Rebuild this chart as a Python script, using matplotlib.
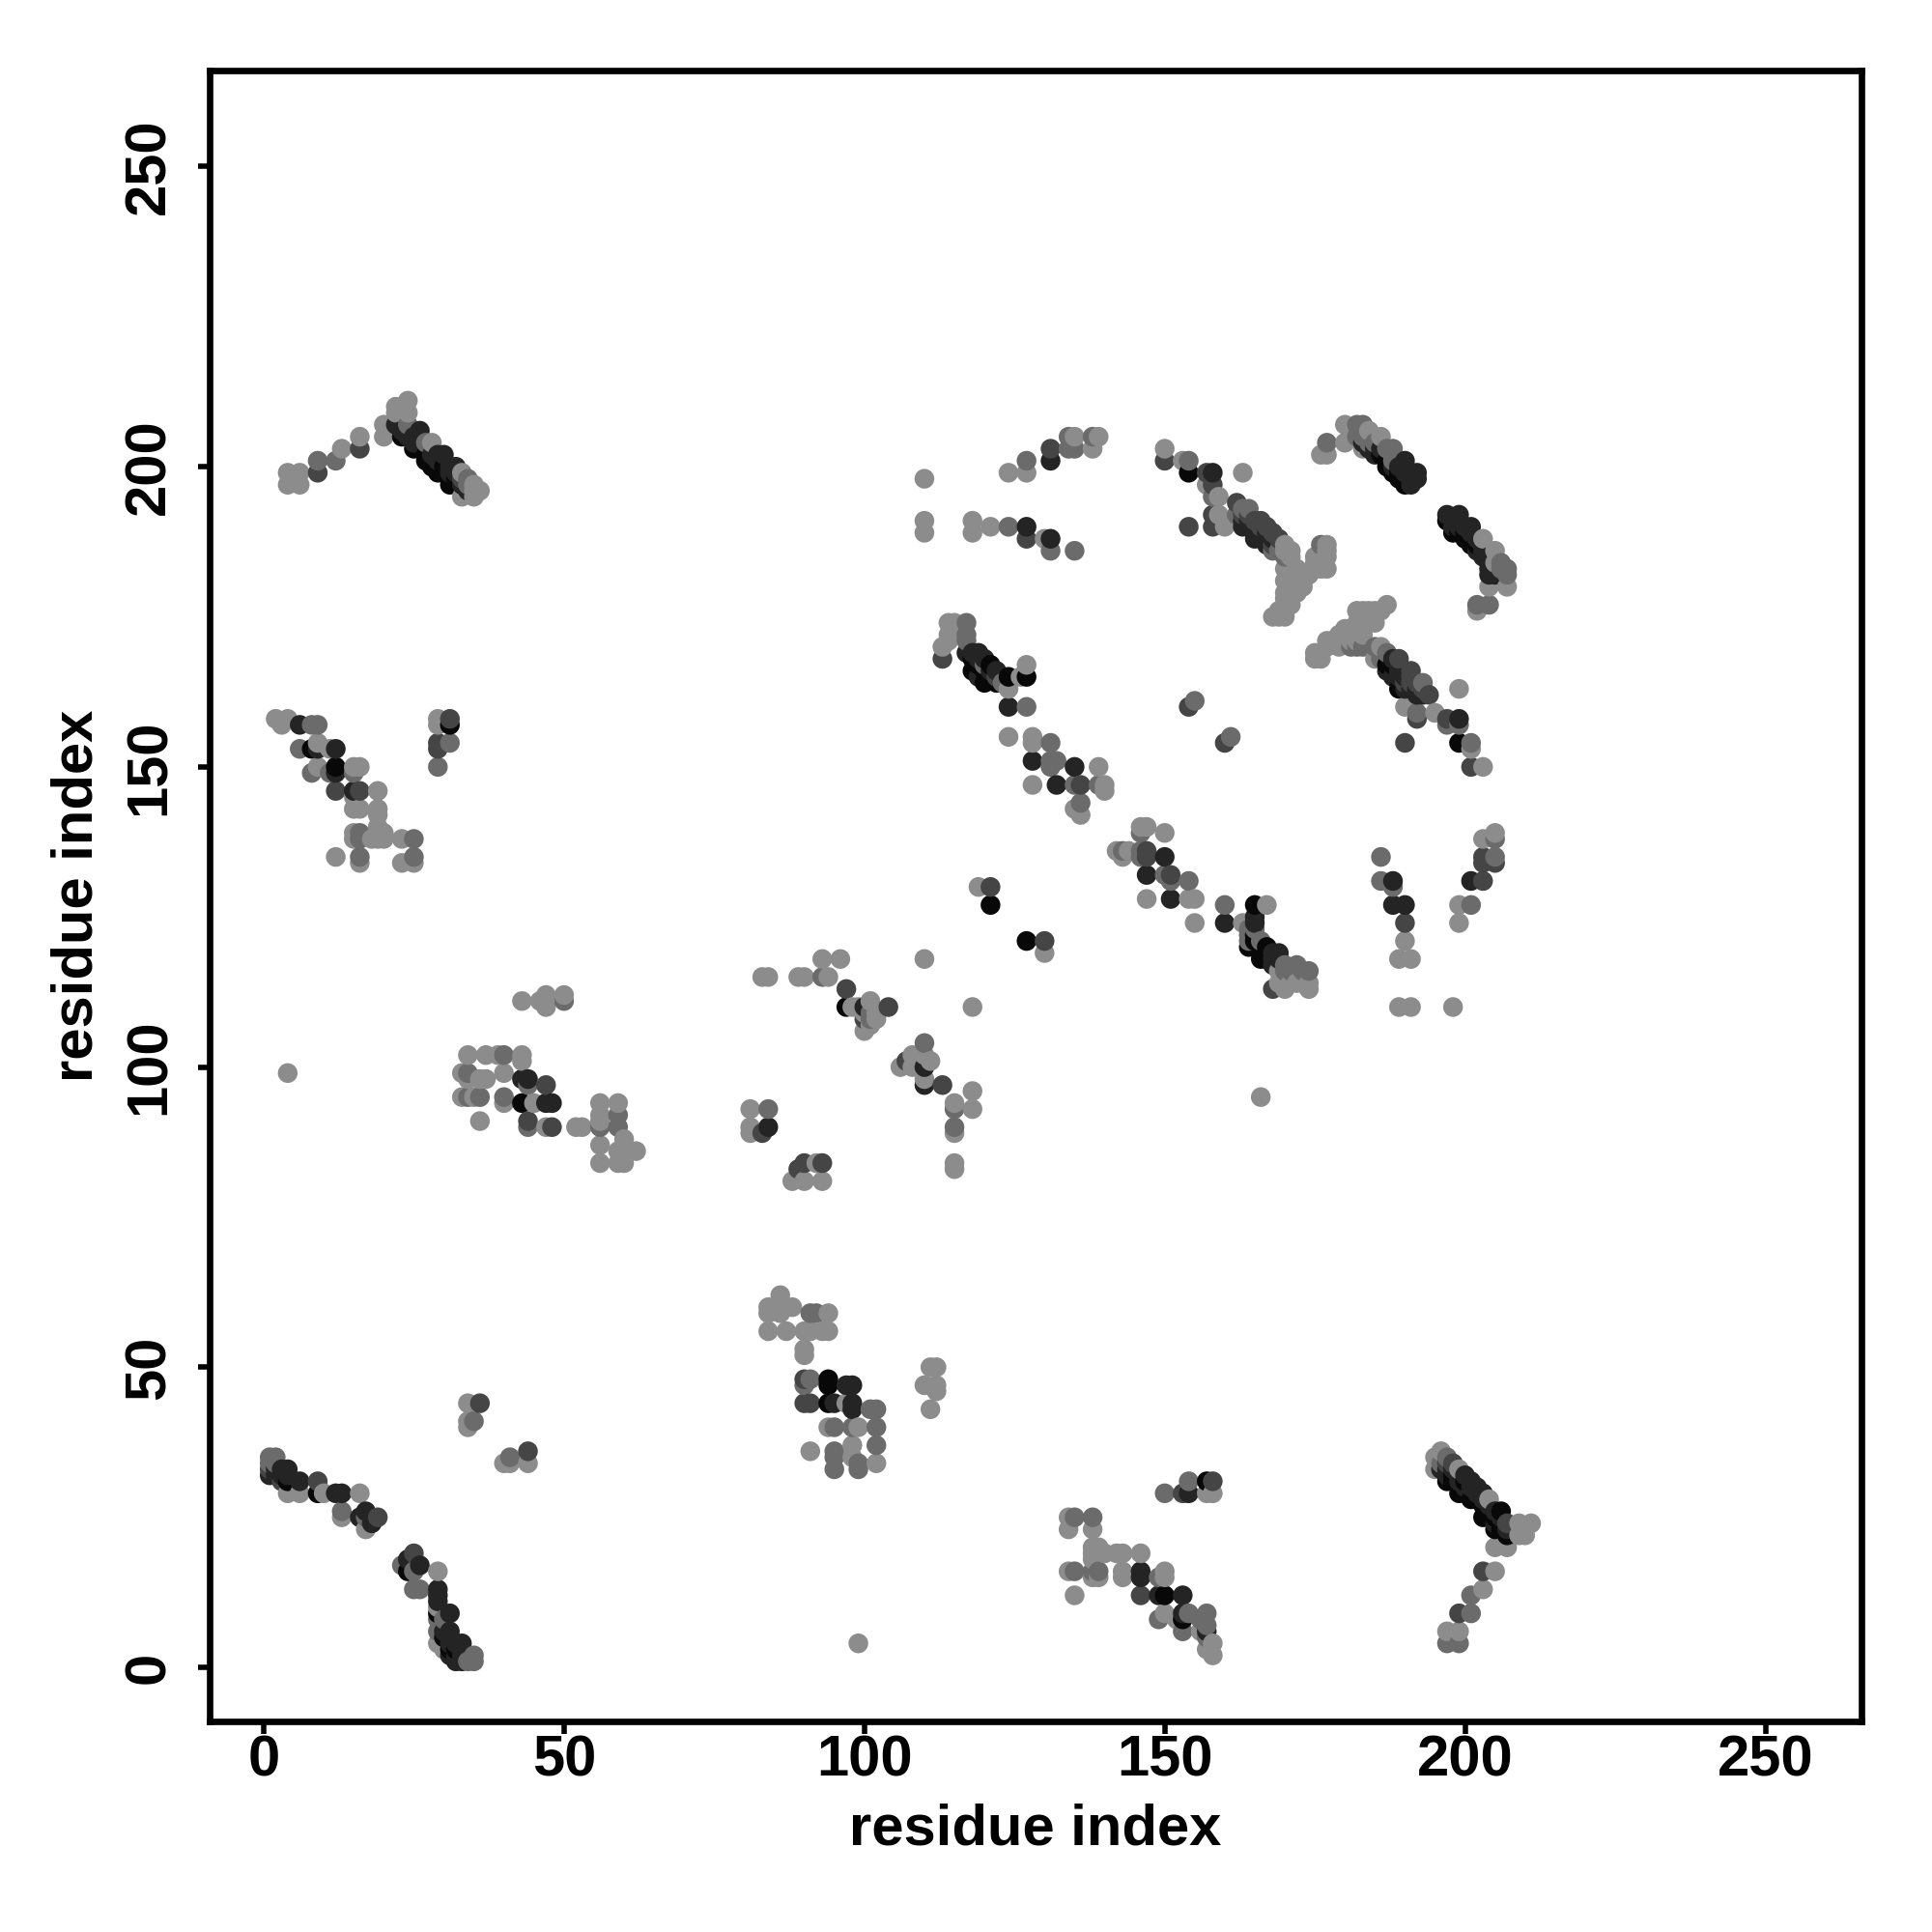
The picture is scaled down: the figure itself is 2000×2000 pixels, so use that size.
import matplotlib
matplotlib.use("Agg")
import matplotlib.pyplot as plt
import numpy as np

plt.rcParams["font.family"] = ["Liberation Sans", "DejaVu Sans"]

# contacts, (residue, residue), one list per grey level
black_pts = [
    (23, 205), (25, 203), (28, 201), (29, 199), (31, 197), (30, 199), (32, 198),
    (27, 202), (27, 201), (28, 200), (30, 200), (31, 198),
    (8, 153), (12, 150), (31, 157),
    (154, 199), (187, 201), (189, 199), (190, 197), (197, 191), (200, 189), (201, 187),
    (186, 202), (187, 200), (188, 199), (189, 198), (190, 198), (198, 189), (199, 189),
    (200, 188), (201, 188), (202, 187),
    (118, 166), (121, 167), (120, 164), (124, 165), (127, 165), (187, 167),
    (118, 168), (119, 167), (120, 166), (121, 165), (122, 164), (189, 163), (188, 167),
    (199, 154), (165, 127), (164, 120), (165, 122), (167, 120), (166, 118),
    (165, 121), (166, 119), (167, 119), (167, 118),
    (121, 127), (127, 121),
    (97, 110), (94, 48), (94, 47), (94, 44), (43, 94), (4, 31), (9, 29), (24, 16), (29, 9),
    (30, 5), (32, 3), (31, 3),
    (157, 31), (150, 12), (153, 8), (197, 31), (199, 29), (201, 28), (203, 25),
    (206, 26), (205, 23), (207, 22), (198, 31), (198, 32), (199, 30), (200, 31), (202, 28),
    (203, 27), (204, 26), (205, 25), (206, 24), (206, 23),
]
dark_pts = [
    (22, 207), (26, 206), (30, 202), (32, 200), (33, 197), (25, 205), (26, 204),
    (29, 202), (31, 200), (12, 153), (9, 153), (12, 149), (15, 146), (6, 157),
    (23, 206), (24, 205), (25, 204), (28, 202), (29, 201), (31, 199), (32, 199), (34, 196),
    (127, 190), (131, 188), (131, 201), (158, 199), (165, 188), (163, 190), (166, 189),
    (164, 191), (165, 190), (165, 189), (167, 188), (163, 191), (168, 188), (167, 189),
    (167, 187), (183, 204), (185, 203), (190, 201), (192, 199), (191, 197), (188, 200),
    (184, 203), (185, 202), (186, 203), (189, 200), (190, 199), (191, 199), (191, 198),
    (192, 198), (198, 190), (198, 191), (199, 190), (200, 190), (201, 189), (202, 188),
    (203, 187), (203, 186), (204, 185), (204, 184), (205, 183), (205, 182),
    (199, 192), (197, 192), (201, 190), (202, 186), (203, 185), (204, 183), (204, 182),
    (118, 169), (119, 169), (117, 169), (124, 160), (128, 151), (132, 147), (135, 150),
    (119, 168), (120, 168), (121, 166), (122, 166), (119, 165),
    (188, 165), (190, 163), (192, 162), (199, 158), (147, 132), (150, 135), (151, 128),
    (188, 168), (187, 166), (189, 166), (189, 165), (190, 165), (191, 163), (192, 163),
    (193, 162),
    (160, 124), (165, 124), (169, 119), (168, 117), (188, 131), (188, 127), (190, 127),
    (165, 125), (168, 118), (168, 119), (169, 118),
    (201, 131), (44, 98), (43, 98), (47, 94), (48, 94), (84, 90), (100, 110), (110, 100),
    (110, 97), (97, 47), (98, 47), (95, 44), (98, 44), (98, 43), (1, 32), (4, 33), (6, 31),
    (2, 33), (2, 32), (3, 33), (3, 32), (4, 32),
    (12, 29), (13, 29), (16, 25), (17, 26), (18, 24), (24, 18), (26, 17), (29, 13),
    (29, 12), (31, 9), (31, 6), (31, 4), (33, 4), (32, 1), (33, 1),
    (29, 11), (30, 6), (31, 5), (32, 4), (33, 3), (32, 2), (33, 2), (31, 2),
    (154, 29), (149, 12), (153, 12), (153, 9), (146, 16), (146, 15), (157, 6),
    (196, 33), (200, 32), (200, 30), (202, 30), (197, 33), (197, 32), (198, 33), (199, 32),
    (199, 31), (201, 30), (201, 31), (202, 29), (203, 29), (203, 28), (204, 27), (205, 26),
    (205, 24), (206, 25), (207, 23),
]
dkmid_pts = [
    (9, 199), (16, 203), (29, 154), (29, 153), (31, 158), (12, 146), (16, 146),
    (150, 201), (127, 188), (131, 203), (157, 199), (158, 197), (154, 190), (158, 192),
    (158, 190), (162, 194), (166, 191), (168, 189), (113, 168), (122, 165),
    (163, 192), (164, 192), (165, 191), (166, 190), (167, 190), (169, 188), (168, 187),
    (154, 160), (160, 154), (147, 136), (147, 135), (151, 132), (121, 130), (130, 121),
    (168, 113), (203, 131), (203, 135), (203, 134), (205, 134), (190, 124), (189, 168),
    (191, 166), (194, 162), (197, 158), (192, 158), (190, 154), (201, 150), (136, 147),
    (190, 164), (191, 165), (191, 164), (192, 164), (193, 163),
    (47, 97), (44, 91), (48, 90), (83, 89), (90, 84), (89, 83), (93, 84), (97, 113),
    (107, 101), (113, 97), (100, 108), (90, 48), (90, 44), (91, 44), (1, 33), (3, 31),
    (9, 31), (19, 25), (25, 19), (36, 44), (44, 36), (153, 29), (146, 12),
    (198, 34), (203, 16), (199, 9), (207, 24), (158, 31), (104, 110), (197, 34), (33, 198),
]
mid_pts = [
    (9, 201), (12, 201), (24, 207), (34, 198), (31, 154), (29, 150), (6, 153), (8, 157),
    (27, 204), (34, 197),
    (9, 157), (11, 149), (8, 149), (15, 149), (16, 139), (16, 138), (25, 138), (16, 135),
    (25, 135), (124, 190), (131, 186), (135, 186), (127, 201), (134, 205), (134, 203),
    (135, 203), (138, 205), (154, 201), (158, 195), (163, 193), (164, 193), (162, 192),
    (168, 186), (170, 185), (176, 187), (177, 204), (182, 207), (183, 207), (182, 205),
    (169, 186), (183, 205), (184, 204), (187, 203), (188, 201),
    (185, 204), (188, 203), (207, 183), (207, 182), (202, 177), (204, 177),
    (206, 184), (206, 183),
    (117, 174), (117, 172), (117, 171), (120, 167), (123, 164), (127, 160), (131, 154),
    (131, 151), (132, 151), (131, 150), (135, 147), (139, 147), (136, 144), (155, 161),
    (161, 155), (182, 170), (185, 170), (193, 164), (192, 159), (197, 157), (199, 157),
    (186, 169), (187, 169), (186, 168), (183, 170), (181, 170),
    (201, 154), (146, 139), (143, 136), (146, 136), (146, 135), (150, 132), (154, 131),
    (151, 131), (160, 127), (165, 123), (164, 122), (166, 121), (170, 117), (172, 117),
    (164, 123), (164, 121), (170, 116), (171, 116), (173, 116),
    (174, 116), (186, 135), (186, 131), (188, 130), (201, 127), (205, 138), (205, 135),
    (34, 99), (40, 102), (34, 95), (36, 95), (40, 95), (44, 97), (44, 90), (56, 90),
    (59, 92), (59, 90), (50, 111), (84, 93), (93, 115), (101, 109), (110, 104),
    (101, 108),
    (115, 93), (115, 90), (91, 59), (92, 59), (91, 48), (90, 47), (101, 43), (102, 43),
    (95, 40), (98, 40), (102, 40), (102, 37), (95, 36), (95, 35), (95, 33), (99, 34),
    (99, 33), (35, 41), (41, 35), (1, 35), (2, 35), (1, 34), (2, 34), (13, 26), (17, 25),
    (23, 17), (25, 16), (25, 13), (26, 13), (29, 6), (34, 1), (35, 2), (35, 1),
    (29, 8), (30, 8),
    (150, 29), (154, 31), (135, 25), (138, 25), (135, 16), (138, 16), (139, 16), (149, 15),
    (149, 8), (154, 9), (153, 6), (156, 8), (157, 9), (157, 7), (157, 5),
    (197, 35), (201, 12), (201, 9), (197, 4), (199, 4), (196, 34),
]
light_pts = [
    (4, 199), (4, 197), (6, 199), (6, 197), (13, 203), (16, 205), (20, 207), (20, 205),
    (22, 210), (24, 211), (24, 209), (22, 209), (28, 204), (33, 199), (36, 196), (35, 197),
    (35, 196),
    (33, 195), (35, 195), (2, 158), (4, 158), (3, 157), (9, 154), (11, 153), (9, 150),
    (15, 150), (16, 150), (19, 146), (15, 145), (15, 143), (16, 143), (19, 143), (19, 142),
    (19, 140), (15, 139), (15, 138), (18, 138), (19, 138), (20, 139), (20, 138), (23, 138),
    (12, 135), (16, 134), (23, 134), (25, 134), (29, 158), (29, 157),
    (110, 198), (110, 191), (110, 189), (118, 191), (118, 189), (121, 190), (130, 188),
    (124, 199), (127, 199), (135, 205), (139, 205), (138, 203), (150, 203), (153, 201),
    (157, 197), (159, 195), (159, 192), (160, 190), (163, 199), (170, 187), (170, 183),
    (172, 183), (172, 181), (173, 180), (170, 181), (170, 179), (171, 177), (170, 175),
    (171, 186), (171, 185), (170, 186), (172, 182), (173, 182), (173, 181), (172, 179),
    (171, 180), (170, 178), (169, 176), (169, 175), (171, 179), (174, 182), (176, 185),
    (176, 184), (175, 184), (176, 183), (176, 186), (177, 186),
    (168, 175), (177, 187), (177, 185), (175, 185), (175, 183), (177, 183), (176, 202),
    (177, 202), (180, 204), (180, 207), (184, 206), (186, 205), (183, 203), (203, 188),
    (205, 186), (205, 184), (204, 180), (207, 180), (202, 176),
    (114, 174), (115, 174), (114, 172), (113, 170), (114, 171), (126, 165), (127, 167),
    (124, 163), (124, 155), (128, 155), (128, 154), (139, 150), (128, 147), (140, 147),
    (140, 146), (135, 143), (136, 142), (175, 168), (176, 168), (177, 171), (180, 173),
    (179, 170), (183, 172), (182, 176), (183, 176), (182, 174), (185, 176), (187, 177),
    (180, 172), (181, 171), (181, 173), (179, 172), (178, 171), (176, 169), (177, 170),
    (175, 169), (184, 175), (183, 175), (184, 176), (186, 176), (184, 174), (183, 174),
    (182, 171),
    (185, 174), (186, 170), (185, 168), (199, 163), (190, 160), (195, 159), (201, 153),
    (203, 150), (146, 140), (147, 140), (150, 139), (142, 136), (144, 136), (143, 135),
    (147, 128), (154, 128), (155, 128), (155, 124), (167, 127), (163, 124), (169, 116),
    (171, 114), (173, 114), (169, 114),
    (170, 113), (172, 114), (174, 114), (174, 113), (119, 130), (130, 119), (110, 118),
    (118, 110), (190, 121), (189, 118), (191, 118), (189, 110), (191, 110), (198, 110),
    (199, 124), (199, 127), (203, 138), (205, 139),
    (4, 99), (34, 102), (37, 102), (39, 102), (43, 102), (43, 101), (33, 99), (34, 98),
    (36, 98), (37, 98), (40, 99), (40, 94), (33, 95), (35, 95), (45, 94), (36, 91), (47, 90),
    (52, 90), (53, 90), (56, 94), (56, 92), (56, 91), (59, 94), (60, 88), (56, 87), (59, 86),
    (60, 86), (62, 86), (56, 84), (59, 84), (60, 84), (43, 111), (46, 111), (47, 112),
    (47, 110), (50, 112), (81, 93), (81, 90), (81, 89), (92, 84), (88, 81), (90, 81), (93, 81),
    (83, 115), (84, 115), (89, 115), (90, 115), (94, 115), (93, 118), (96, 118), (98, 110),
    (101, 111), (102, 108), (100, 106), (110, 102), (108, 102), (111, 101), (106, 100),
    (99, 110), (100, 109), (101, 107), (102, 109),
    (108, 100), (110, 98), (118, 96), (118, 93), (115, 94), (115, 89), (115, 84), (115, 83),
    (86, 62), (84, 60), (85, 60), (88, 60), (86, 59), (84, 59), (94, 59), (84, 56), (87, 56),
    (90, 56), (91, 56), (93, 56), (94, 56), (90, 53), (90, 52), (97, 44), (94, 40), (99, 40),
    (91, 36), (98, 37), (98, 35), (102, 34), (111, 50), (112, 50), (110, 47), (112, 47),
    (112, 46), (111, 43), (34, 44), (34, 40), (34, 41), (40, 34), (41, 34), (44, 34), (99, 4),
    (4, 29), (6, 29), (10, 29), (16, 29), (13, 25), (17, 23), (29, 16), (29, 10), (29, 4),
    (30, 4), (30, 3),
    (166, 95), (157, 29), (158, 29), (134, 25), (134, 23), (138, 23), (138, 20), (139, 20),
    (138, 19), (140, 19), (142, 19), (143, 19), (146, 19), (138, 18), (134, 16), (138, 15),
    (139, 15), (143, 16), (143, 15), (150, 16), (150, 15), (135, 12), (150, 9), (152, 8),
    (156, 6), (158, 4), (157, 3), (158, 2),
    (195, 35), (196, 36), (195, 33), (199, 33), (204, 28), (205, 20), (207, 20), (209, 24),
    (211, 24), (210, 22), (209, 22), (205, 16), (203, 13), (197, 6), (199, 6),
]

point_groups = [black_pts, dark_pts, dkmid_pts, mid_pts, light_pts]
group_greys = [0.03, 0.14, 0.27, 0.42, 0.55]

ticks = [0, 50, 100, 150, 200, 250]


def main():
    fig = plt.figure(figsize=(10, 10), dpi=200)
    ax = fig.add_axes([217 / 2000, 1 - 1782 / 2000, 1710 / 2000, 1709 / 2000])

    xs = np.concatenate([[p[0] for p in g] for g in point_groups])
    ys = np.concatenate([[p[1] for p in g] for g in point_groups])
    greys = np.concatenate([[c] * len(g) for g, c in zip(point_groups, group_greys)])

    # original paints column by column, later residues on top
    order = np.lexsort((ys, xs))
    ax.scatter(xs[order], ys[order], c=[str(v) for v in greys[order]],
               s=54, linewidths=0, zorder=3)

    ax.set_xlim(-9, 266)
    ax.set_ylim(-9, 266)
    ax.set_xticks(ticks)
    ax.set_yticks(ticks)
    ax.tick_params(axis="both", length=4.5, width=2.0, labelsize=21.5)
    ax.tick_params(axis="x", pad=0.3)
    ax.tick_params(axis="y", pad=8)
    for lab in ax.get_xticklabels():
        lab.set_fontweight("bold")
    for lab in ax.get_yticklabels():
        lab.set_fontweight("bold")
        lab.set_rotation(90)
        lab.set_verticalalignment("center")
    for sp in ax.spines.values():
        sp.set_linewidth(2.4)

    ax.set_xlabel("residue index", fontsize=21.5, fontweight="bold", labelpad=6)
    ax.set_ylabel("residue index", fontsize=21.5, fontweight="bold", labelpad=7)

    fig.savefig("out.png", dpi=200, facecolor="white")
    plt.close(fig)


if __name__ == "__main__":
    main()
